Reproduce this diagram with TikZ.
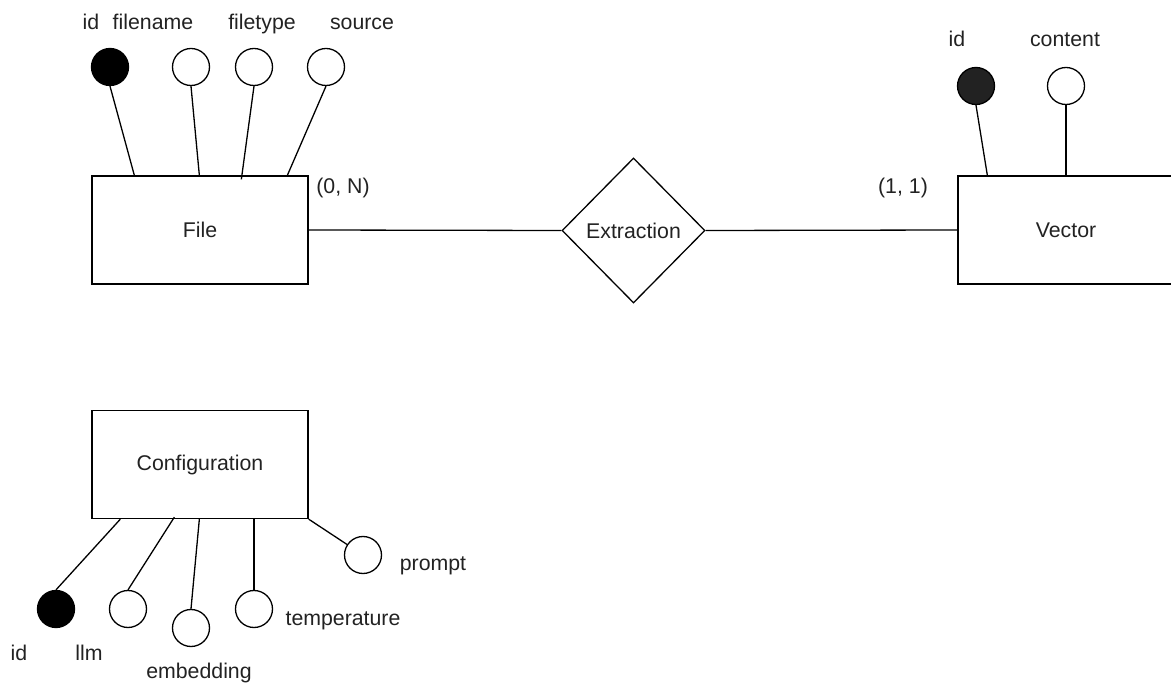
\documentclass[tikz,border=0pt]{standalone}
\usepackage{fontspec}
\setmainfont{Liberation Sans}
\usetikzlibrary{shapes.geometric}
\definecolor{ink}{HTML}{222222}
\begin{document}
\begin{tikzpicture}[x=1pt,y=-1pt,
  line width=1.3pt,
  every node/.style={font=\fontsize{21.3}{25}\selectfont, text=ink},
  entity/.style={draw, rectangle, minimum width=216pt, minimum height=108pt, inner sep=0pt},
  relation/.style={draw, diamond, minimum width=143pt, minimum height=145pt, inner sep=0pt},
  attr/.style={draw, circle, minimum size=37pt, inner sep=0pt, fill=white},
  keyattr/.style={attr, fill=black},
  lbl/.style={inner sep=0pt, anchor=base}]
\useasboundingbox (0,0) rectangle (1171,684);

% entities and relationship
\node[entity] (file) at (200,230) {File};
\node[entity] (vector) at (1066,230) {Vector};
\node[entity] (cfg) at (200,464.5) {Configuration};
\node[relation] (rel) at (633.5,230.5) {Extraction};

\draw (file.east) -- (rel.west);
\draw (rel.east) -- (vector.west);
\node[lbl] (cardfile) at (343,194) {(0, N)};
\node[lbl] (cardvec) at (903,194) {(1, 1)};

% File attributes
\node[keyattr] (fid) at (110,67) {};
\node[attr] (fname) at (191,67) {};
\node[attr] (ftype) at (254,67) {};
\node[attr] (fsrc) at (326,67) {};
\node[lbl] (fidl) at (91,29.5) {id};
\node[lbl] (fnamel) at (153,29.5) {filename};
\node[lbl] (ftypel) at (262,29.5) {filetype};
\node[lbl] (fsrcl) at (362,29.5) {source};
\draw (fid.south) -- ([xshift=43pt]file.north west);
\draw (fname.south) -- ([xshift=108pt]file.north west);
\draw (ftype.south) -- ([xshift=150pt,yshift=-4pt]file.north west);
\draw (fsrc.south) -- ([xshift=196pt]file.north west);

% Vector attributes
\node[keyattr, fill=ink] (vid) at (976,86) {};
\node[attr] (vcont) at (1066,86) {};
\node[lbl] (vidl) at (957,47) {id};
\node[lbl] (vcontl) at (1065,47) {content};
\draw (vid.south) -- ([xshift=30pt]vector.north west);
\draw (vcont.south) -- (vcont.south |- vector.north);

% Configuration attributes
\node[keyattr] (cid) at (56,609) {};
\node[attr] (cllm) at (128,609) {};
\node[attr] (cemb) at (191,628) {};
\node[attr] (ctemp) at (254,609) {};
\node[attr] (cprompt) at (363,555) {};
\node[lbl] (cidl) at (19,660.5) {id};
\node[lbl] (cllml) at (89,660.5) {llm};
\node[lbl] (cembl) at (199,678) {embedding};
\node[lbl] (ctempl) at (343,625) {temperature};
\node[lbl] (cpromptl) at (433,570.5) {prompt};
\draw ([xshift=29pt]cfg.south west) -- (cid.north);
\draw ([xshift=83pt,yshift=2pt]cfg.south west) -- (cllm.north);
\draw ([xshift=108pt]cfg.south west) -- (cemb.north);
\draw (ctemp.north |- cfg.south) -- (ctemp.north);
\draw (cfg.south east) -- (cprompt);
\end{tikzpicture}
\end{document}
